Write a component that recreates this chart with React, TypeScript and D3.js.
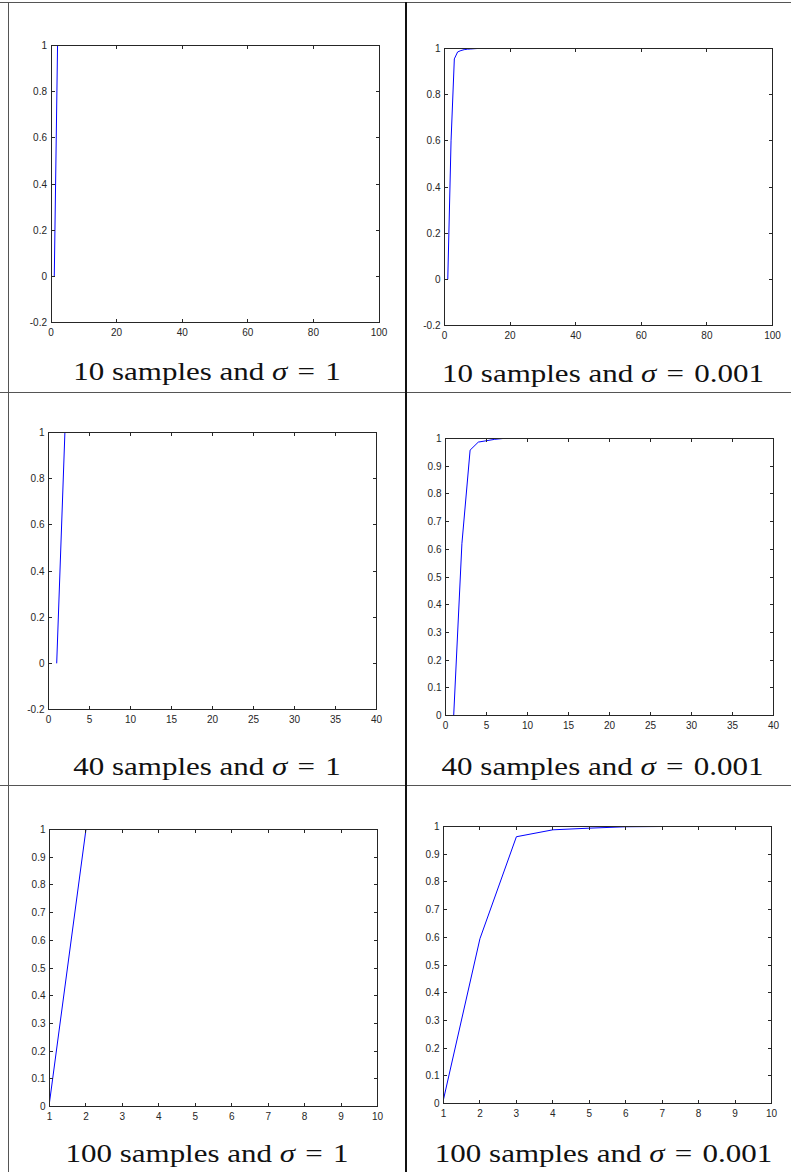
import React from 'react';
import * as d3 from 'd3';

const W = 791;
const H = 1172;

// cumulative values, x position of value i is sample index i + 1
const cum10Sigma1 = [0, 1, 1, 1, 1, 1, 1, 1, 1, 1];
const cum10Sigma001 = [0, 0.6, 0.955, 0.985, 0.991, 0.995, 0.997, 0.998, 0.999, 1];
const cum40Sigma1 = [
  0, 1, 1, 1, 1, 1, 1, 1, 1, 1,
  1, 1, 1, 1, 1, 1, 1, 1, 1, 1,
  1, 1, 1, 1, 1, 1, 1, 1, 1, 1,
  1, 1, 1, 1, 1, 1, 1, 1, 1, 1,
];
const cum40Sigma001 = [
  0, 0.62, 0.958, 0.987, 0.992, 0.997, 1, 1, 1, 1,
  1, 1, 1, 1, 1, 1, 1, 1, 1, 1,
  1, 1, 1, 1, 1, 1, 1, 1, 1, 1,
  1, 1, 1, 1, 1, 1, 1, 1, 1, 1,
];
const cum100Sigma1 = [0.015, 1, 1, 1, 1, 1, 1, 1, 1, 1];
const cum100Sigma001 = [0.015, 0.595, 0.963, 0.988, 0.994, 0.999, 1, 1, 1, 1];

const xTicks100 = [0, 20, 40, 60, 80, 100];
const xTicks40 = [0, 5, 10, 15, 20, 25, 30, 35, 40];
const xTicks10 = [1, 2, 3, 4, 5, 6, 7, 8, 9, 10];
const yTicksWide = [-0.2, 0, 0.2, 0.4, 0.6, 0.8, 1];
const yTicksFine = [0, 0.1, 0.2, 0.3, 0.4, 0.5, 0.6, 0.7, 0.8, 0.9, 1];

const sampleCounts = ['10', '10', '40', '40', '100', '100'];
const sigmas = ['1', '0.001', '1', '0.001', '1', '0.001'];

const panels = [
  { values: cum10Sigma1, xDomain: [0, 100], yDomain: [-0.2, 1], xTicks: xTicks100, yTicks: yTicksWide,
    box: { l: 51, t: 45.5, r: 379, b: 322.5 }, cap: { x: 207, y: 380 } },
  { values: cum10Sigma001, xDomain: [0, 100], yDomain: [-0.2, 1], xTicks: xTicks100, yTicks: yTicksWide,
    box: { l: 444.5, t: 48.5, r: 772.5, b: 325.5 }, cap: { x: 603, y: 381.5 } },
  { values: cum40Sigma1, xDomain: [0, 40], yDomain: [-0.2, 1], xTicks: xTicks40, yTicks: yTicksWide,
    box: { l: 48.5, t: 432.5, r: 376.5, b: 709.5 }, cap: { x: 207, y: 775 } },
  { values: cum40Sigma001, xDomain: [0, 40], yDomain: [0, 1], xTicks: xTicks40, yTicks: yTicksFine,
    box: { l: 445.5, t: 438.5, r: 773.5, b: 715.5 }, cap: { x: 602.5, y: 775 } },
  { values: cum100Sigma1, xDomain: [1, 10], yDomain: [0, 1], xTicks: xTicks10, yTicks: yTicksFine,
    box: { l: 49.5, t: 829.5, r: 377.5, b: 1106.5 }, cap: { x: 207, y: 1161.5 } },
  { values: cum100Sigma001, xDomain: [1, 10], yDomain: [0, 1], xTicks: xTicks10, yTicks: yTicksFine,
    box: { l: 443.5, t: 826.5, r: 771.5, b: 1103.5 }, cap: { x: 603.5, y: 1161.5 } },
];

const TICK = 3.5;
const axisColor = '#262626';
const labelFont = '"Liberation Sans", Arial, sans-serif';
const capFont = '"Liberation Serif", "Times New Roman", serif';

function Panel({ p, idx }) {
  const { box } = p;
  const x = d3.scaleLinear().domain(p.xDomain).range([box.l, box.r]);
  const y = d3.scaleLinear().domain(p.yDomain).range([box.b, box.t]);
  const line = d3.line<number>()
    .x((_, i) => x(i + 1))
    .y(d => y(d));
  const clipId = 'clip' + idx;

  return (
    <g>
      <clipPath id={clipId}>
        <rect x={box.l} y={box.t - 1} width={box.r - box.l} height={box.b - box.t + 2} />
      </clipPath>
      <path d={line(p.values)} fill="none" stroke="#0000ff" strokeWidth={1} clipPath={`url(#${clipId})`} />

      <g stroke={axisColor} strokeWidth={1} shapeRendering="crispEdges">
        <rect x={box.l} y={box.t} width={box.r - box.l} height={box.b - box.t} fill="none" />
        {p.xTicks.map(t => (
          <g key={'x' + t}>
            <line x1={x(t)} x2={x(t)} y1={box.b} y2={box.b - TICK} />
            <line x1={x(t)} x2={x(t)} y1={box.t} y2={box.t + TICK} />
          </g>
        ))}
        {p.yTicks.map(t => (
          <g key={'y' + t}>
            <line x1={box.l} x2={box.l + TICK} y1={y(t)} y2={y(t)} />
            <line x1={box.r} x2={box.r - TICK} y1={y(t)} y2={y(t)} />
          </g>
        ))}
      </g>

      <g fontFamily={labelFont} fontSize={10} fill={axisColor}>
        {p.xTicks.map(t => (
          <text key={'xl' + t} x={x(t)} y={box.b + 13.5} textAnchor="middle">{String(t)}</text>
        ))}
        {p.yTicks.map(t => (
          <text key={'yl' + t} x={box.l - 4} y={y(t)} dy="0.35em" textAnchor="end">{String(t)}</text>
        ))}
      </g>

      <text
        transform={`translate(${p.cap.x},${p.cap.y}) scale(1.24,1)`}
        textAnchor="middle"
        fontFamily={capFont}
        fontSize={25}
        fill="#111"
      >
        {sampleCounts[idx] + ' samples and '}
        <tspan fontStyle="italic">σ</tspan>
        <tspan dx={2}>{'\u00a0=\u00a0'}</tspan>
        <tspan dx={2}>{sigmas[idx]}</tspan>
      </text>
    </g>
  );
}

export default function App() {
  return (
    <svg width={W} height={H} style={{ position: 'absolute', left: 0, top: 0, background: '#fff' }}>
      <rect x={0} y={0} width={W} height={H} fill="#fff" />
      <g stroke="#555" strokeWidth={1.5} shapeRendering="crispEdges">
        <line x1={0} x2={W} y1={2.5} y2={2.5} />
        <line x1={0} x2={W} y1={392.5} y2={392.5} />
        <line x1={0} x2={W} y1={785.5} y2={785.5} />
        <line x1={8.5} x2={8.5} y1={2} y2={H} />
      </g>
      <line x1={406} x2={406} y1={2} y2={H} stroke="#111" strokeWidth={1.5} shapeRendering="crispEdges" />
      {panels.map((p, i) => (
        <Panel key={i} p={p} idx={i} />
      ))}
    </svg>
  );
}
